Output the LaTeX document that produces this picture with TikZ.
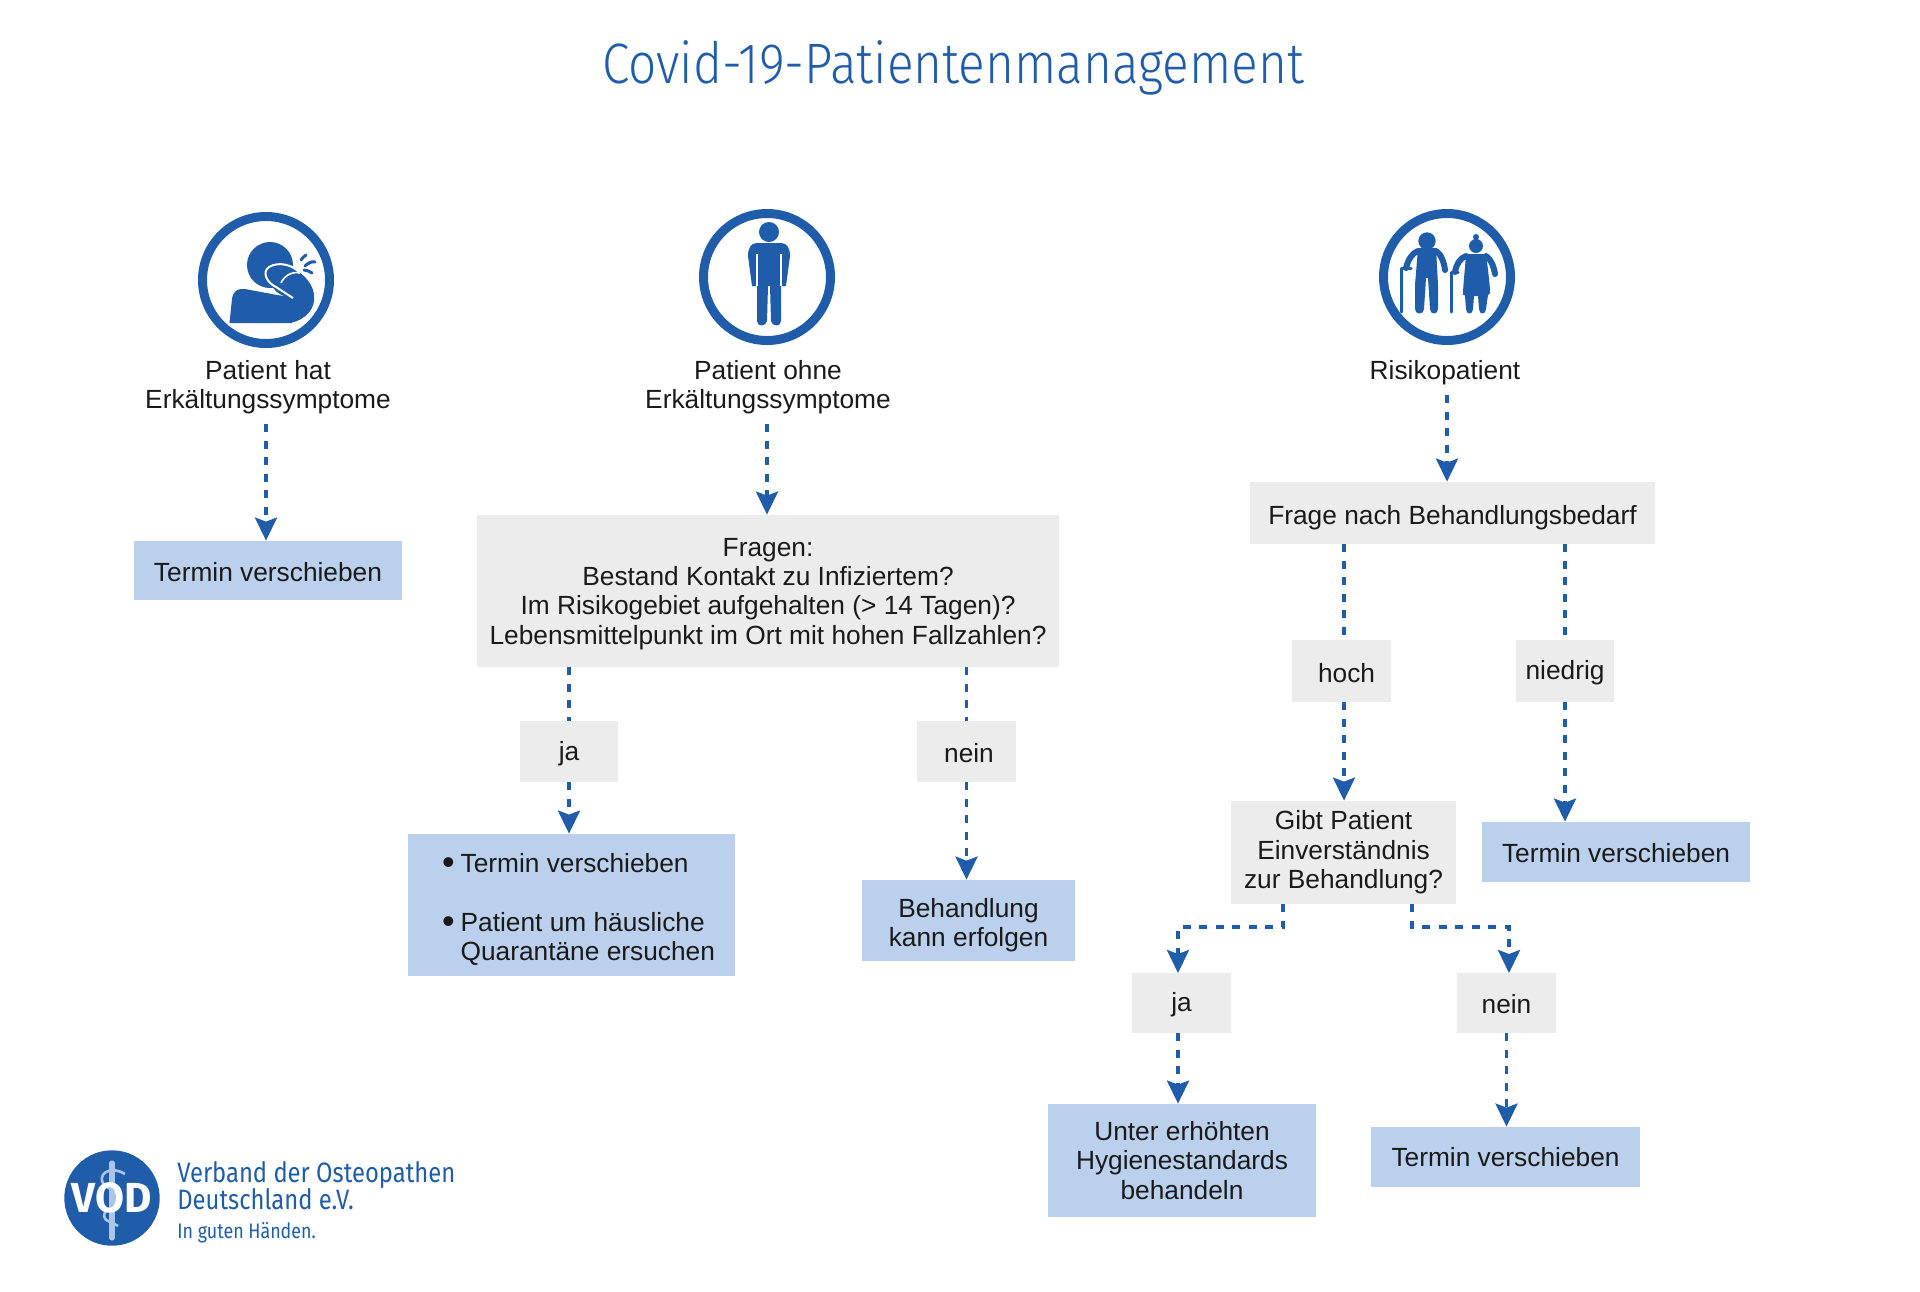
\documentclass[tikz,border=0pt]{standalone}
\usepackage{fontspec}
\setmainfont{Liberation Sans}
\newfontfamily\vodfont[FakeStretch=0.87]{Fira Sans Light}
\newfontfamily\brandfont[FakeStretch=0.85]{Fira Sans}
\newfontfamily\sealfont{Fira Sans}
\usetikzlibrary{arrows.meta}
\definecolor{vodblue}{HTML}{1F5CA9}
\definecolor{vodpale}{HTML}{BBD0EC}
\definecolor{vodgrey}{HTML}{ECECEC}
\definecolor{vodink}{HTML}{1A1A1A}
\definecolor{vodstaff}{HTML}{A9C6E8}
\tikzset{
	every node/.append style={font=\fontsize{13.15}{14.7}\selectfont,text=vodink}}

\begin{document}
\begin{tikzpicture}
  [x=0.5pt,y=-0.5pt,>={Stealth[length=11.5pt,width=11pt,inset=2pt]},
  	box/.style={inner sep=0pt,align=center},
  	greybox/.style={box,fill=vodgrey},
  	bluebox/.style={box,fill=vodpale},
  	oneline/.style={text height=10.6pt,text depth=0pt},
  	ring/.style={circle,draw=vodblue,line width=4.5pt,minimum size=63.5pt,inner sep=0pt},
  	caption/.style={align=center,inner ysep=5pt,inner xsep=0pt},
  	conn/.style={draw=vodblue,line width=1.8pt,dash pattern=on 4pt off 4.25pt},
  	ink/.style={fill=vodblue,draw=none},
  	limb/.style={draw=vodblue,line cap=round,line join=round},
  	brand/.style={anchor=base west,inner sep=0pt,text=vodblue}
  ]
  \useasboundingbox (0,0) rectangle (1920,1291);

  \node [anchor=base,inner sep=0pt,text=vodblue,font=\vodfont\fontsize{28.5}{30}\selectfont] (title) at (953,83) {Covid-19-Patientenmanagement};

  % the three patient groups
  \node [ring] (ring1) at (266,280) {};
  \node [ring] (ring2) at (767,277) {};
  \node [ring] (ring3) at (1447,277) {};
  \node [caption] (cap1) at (268,387) {Patient hat\\Erkältungssymptome};
  \node [caption] (cap2) at (768,387) {Patient ohne\\Erkältungssymptome};
  \node [caption] (cap3) at (1445,372.5) {Risikopatient};

  % coughing patient
  \fill [ink] (270,265) circle (23);
  \fill [ink] (229.5,323) -- (232,299) .. controls (233,291) and (238,288) .. (245,289)
    -- (277,295) -- (292,297) -- (292,323) -- cycle;
  \fill [ink] (290,323) .. controls (306,320) and (316,308) .. (314,295)
    .. controls (313,285) and (306,277) .. (299,272) .. controls (292,264) and (281,262) .. (272,270)
    .. controls (266,278) and (272,292) .. (284,296) -- cycle;
  \draw [white,line width=1pt] (293,298) -- (276,287) .. controls (266,282) and (262,272) .. (269,267)
    .. controls (279,261) and (293,265) .. (300,273);
  \draw [white,line width=0.8pt] (300,273) .. controls (292,271) and (284,276) .. (281,283);
  \draw [limb,line width=1.5pt] (301,260) .. controls (303,257) and (305,256) .. (306,255)
    (305,266) .. controls (308,263) and (312,261) .. (315,262)
    (304,270) .. controls (306,270) and (309,271) .. (312,273);

  % patient without symptoms
  \fill [ink] (769,232) circle (10);
  \fill [ink] (757,243) -- (781,243) .. controls (787,243) and (790,248) .. (790,256)
    -- (786,286) -- (781,286) -- (781,321) .. controls (781,327) and (772,327) .. (771,321)
    -- (770,286) -- (768,286) -- (767,321) .. controls (766,327) and (757,327) .. (757,321)
    -- (757,286) -- (752,286) -- (748,256) .. controls (748,248) and (751,243) .. (757,243) -- cycle;
  \draw [white,line width=0.8pt] (757,254) -- (757,286) (781,254) -- (781,286);

  % patients at risk
  \fill [ink] (1427,241) circle (8.7);
  \fill [ink] (1418,248) -- (1436,248) -- (1438,285) -- (1438,309) .. controls (1438,315) and (1430,315) .. (1430,309)
    -- (1428,278) -- (1426,278) -- (1424,309) .. controls (1424,315) and (1415,315) .. (1415,309) -- (1415,285) -- cycle;
  \draw [limb,line width=3pt] (1418,251) .. controls (1412,253) and (1408,260) .. (1406,268)
    (1436,251) .. controls (1441,254) and (1444,262) .. (1445,270);
  \draw [limb,line width=1.5pt] (1401,312) -- (1401,268) -- (1411,268);
  \fill [ink] (1476,246) circle (7) (1476,237) circle (3);
  \fill [ink] (1466,254) -- (1486,254) .. controls (1488,270) and (1490,285) .. (1490,293)
    -- (1463,295) .. controls (1463,285) and (1465,270) .. (1466,254) -- cycle;
  \fill [ink] (1463,293) -- (1490,293) -- (1488,295) -- (1486,309) .. controls (1486,315) and (1479,315) .. (1479,309)
    -- (1478,296) -- (1474,296) -- (1473,309) .. controls (1473,315) and (1466,315) .. (1466,309) -- (1465,296) -- cycle;
  \draw [limb,line width=3pt] (1466,256) .. controls (1460,258) and (1456,265) .. (1455,272)
    (1486,256) .. controls (1492,260) and (1494,268) .. (1495,274);
  \draw [limb,line width=1.5pt] (1451,312) -- (1451,272) -- (1458,272);

  % boxes left and middle
  \node [bluebox,oneline,text height=11.2pt,minimum width=134pt,minimum height=29.5pt] (term1) at (268,570.5) {Termin verschieben};
  \node [greybox,text height=56.1pt,minimum width=291pt,minimum height=76pt] (frag) at (768,591) {Fragen:\\Bestand Kontakt zu Infiziertem?\\Im Risikogebiet aufgehalten (> 14 Tagen)?\\Lebensmittelpunkt im Ort mit hohen Fallzahlen?};
  \node [greybox,oneline,text height=9.4pt,minimum width=49pt,minimum height=30.5pt] (ja1) at (569,751.5) {ja};
  \node [greybox,oneline,text height=11.2pt,minimum width=49.5pt,minimum height=30.5pt] (nein1) at (966.5,751.5) {\kern2.5pt nein};
  \node [bluebox,minimum width=163.5pt,minimum height=71pt] (hints) at (571.5,905) {%
    \begin{tabular}{@{\hspace{7pt}}l@{\hspace{3pt}}l@{}}
    \raisebox{-1pt}{\fontsize{18}{14.7}\selectfont\textbullet} & \rule{0pt}{16pt}Termin verschieben\\[14.7pt]
    \raisebox{-1pt}{\fontsize{18}{14.7}\selectfont\textbullet} & Patient um häusliche\\
     & Quarantäne ersuchen
    \end{tabular}};
  \node [bluebox,text height=29.2pt,minimum width=106.5pt,minimum height=40.5pt] (treat) at (968.5,920.5) {Behandlung\\kann erfolgen};

  % boxes right
  \node [greybox,oneline,text height=11.8pt,minimum width=202.5pt,minimum height=31pt] (need) at (1452.5,513) {Frage nach Behandlungsbedarf};
  \node [greybox,oneline,text height=11.8pt,minimum width=49.5pt,minimum height=31pt] (high) at (1341.5,671) {\kern5pt hoch};
  \node [greybox,oneline,text height=8.6pt,minimum width=49pt,minimum height=31pt] (low) at (1565,671) {niedrig};
  \node [greybox,minimum width=112.5pt,minimum height=51.5pt] (agree) at (1343.5,852.5) {Gibt Patient\\Einverständnis\\zur Behandlung?};
  \node [bluebox,oneline,minimum width=134pt,minimum height=30pt] (term2) at (1616,852) {Termin verschieben};
  \node [greybox,oneline,text height=8.6pt,minimum width=49.5pt,minimum height=30pt] (ja2) at (1181.5,1003) {ja};
  \node [greybox,oneline,minimum width=49.5pt,minimum height=30pt] (nein2) at (1506.5,1003) {nein};
  \node [bluebox,minimum width=134pt,minimum height=56.5pt] (hygiene) at (1182,1160.5) {Unter erhöhten\\Hygienestandards\\behandeln};
  \node [bluebox,oneline,text height=9.4pt,minimum width=134.5pt,minimum height=30pt] (term3) at (1505.5,1157) {Termin verschieben};

  \coordinate (agreel) at (1283,904);
  \coordinate (agreer) at (1412,904);
  \coordinate (agreem) at (1340,927);
  \coordinate (ja2top) at (1178,973);
  \coordinate (nein2top) at (1509,973);
  \coordinate (highx) at (1344,671);

  \draw [conn,->] (ring1 |- cap1.south) -- (ring1 |- term1.north);
  \draw [conn,->] (ring2 |- cap2.south) -- (ring2 |- frag.north);
  \draw [conn,->] (ring3 |- cap3.south) -- (ring3 |- need.north);
  \draw [conn] (frag.south -| ja1) -- (ja1.north);
  \draw [conn] (frag.south -| nein1) -- (nein1.north);
  \draw [conn,->] (ja1.south) -- (ja1.south |- hints.north);
  \draw [conn,->] (nein1.south) -- (nein1.south |- treat.north);
  \draw [conn] (need.south -| highx) -- (highx |- high.north);
  \draw [conn] (need.south -| low) -- (low.north);
  \draw [conn,->] (highx |- high.south) -- (highx |- agree.north);
  \draw [conn,->] (low.south) -- (low.south |- term2.north);
  \draw [conn,->] (agreel) -- (agreel |- agreem) -- (ja2top |- agreem) -- (ja2top);
  \draw [conn,->] (agreer) -- (agreer |- agreem) -- (nein2top |- agreem) -- (nein2top);
  \draw [conn,->] (ja2top |- ja2.south) -- (ja2top |- hygiene.north);
  \draw [conn,->] (nein2.south) -- (nein2.south |- term3.north);

  % logo
  \node [circle,fill=vodblue,minimum size=47.7pt,inner sep=0pt] (seal) at (112,1198) {};
  \draw [vodstaff,line width=2.6pt,line cap=round] (112,1163) -- (112,1238);
  \draw [vodstaff,line width=1.3pt] (125,1174) .. controls (112,1166) and (100,1172) .. (102,1181)
    .. controls (104,1190) and (122,1190) .. (121,1199) .. controls (120,1207) and (104,1207) .. (104,1216)
    .. controls (104,1222) and (114,1222) .. (118,1226);
  \node [inner sep=0pt,text=white,font=\sealfont\bfseries\fontsize{21}{21}\selectfont] (sealtext) at (seal) {VOD};
  \node [brand,font=\brandfont\fontsize{14}{14}\selectfont] (brand1) at (177,1182) {Verband der Osteopathen};
  \node [brand,font=\brandfont\fontsize{14}{14}\selectfont] (brand2) at (177,1209) {Deutschland e.V.};
  \node [brand,font=\brandfont\fontsize{10.5}{11}\selectfont] (brand3) at (177,1238) {In guten Händen.};
\end{tikzpicture}
\end{document}
